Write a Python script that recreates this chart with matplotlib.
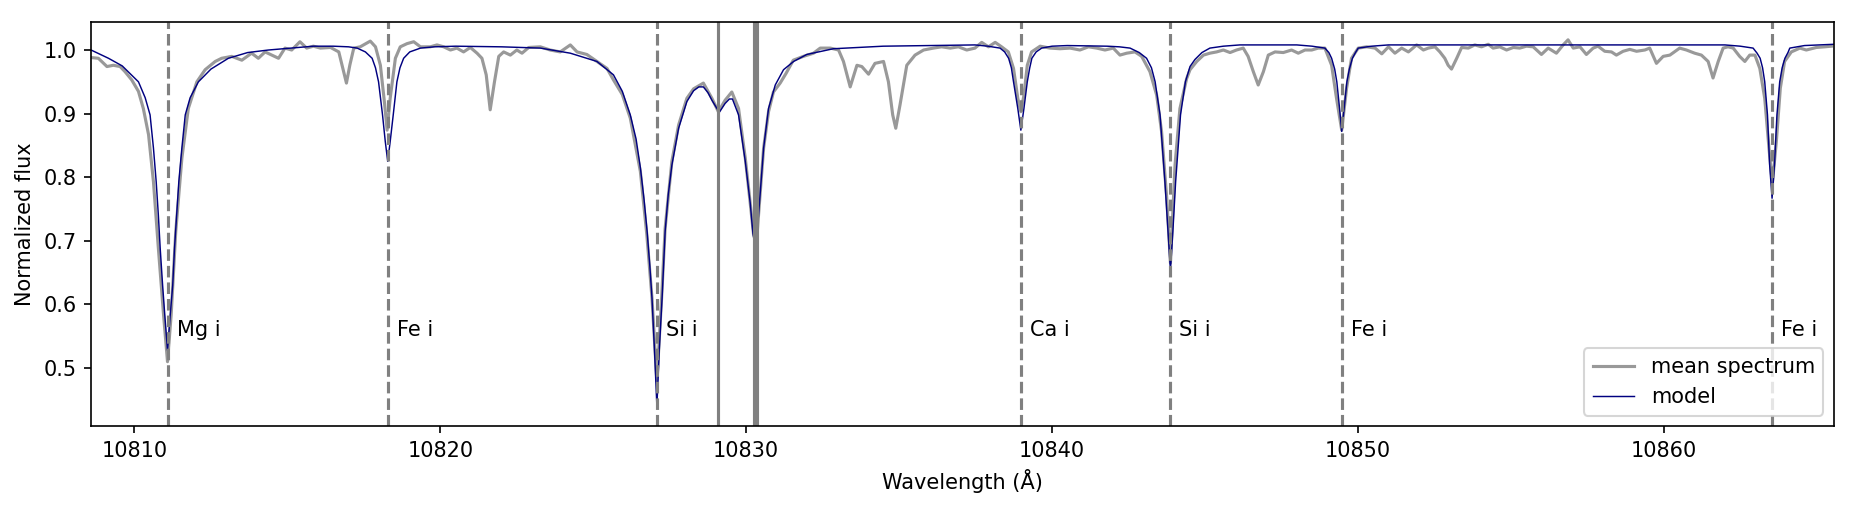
import matplotlib
matplotlib.use("Agg")
import matplotlib.pyplot as plt

# ── mean spectrum ────────────────────────────────────────────
spec_wave = [
    10808.61, 10808.82, 10809.10, 10809.31, 10809.53, 10809.69, 10809.91, 10810.13,
    10810.29, 10810.46, 10810.62, 10810.78, 10810.95, 10811.08, 10811.20, 10811.35,
    10811.55, 10811.76, 10812.04, 10812.31, 10812.64, 10812.85, 10813.18, 10813.51,
    10813.83, 10814.05, 10814.27, 10814.49, 10814.71, 10814.92, 10815.14, 10815.41,
    10815.63, 10815.85, 10816.08, 10816.41, 10816.68, 10816.84, 10816.93, 10817.04,
    10817.17, 10817.38, 10817.71, 10817.88, 10818.04, 10818.17, 10818.26, 10818.36,
    10818.53, 10818.69, 10818.91, 10819.13, 10819.35, 10819.67, 10819.89, 10820.11,
    10820.33, 10820.54, 10820.76, 10820.98, 10821.20, 10821.36, 10821.50, 10821.63,
    10821.77, 10821.91, 10822.07, 10822.29, 10822.50, 10822.67, 10822.89, 10823.27,
    10823.59, 10823.92, 10824.25, 10824.47, 10824.79, 10825.12, 10825.45, 10825.66,
    10825.95, 10826.21, 10826.54, 10826.75, 10826.92, 10827.08, 10827.24, 10827.35,
    10827.57, 10827.79, 10828.06, 10828.28, 10828.60, 10828.88, 10829.09, 10829.31,
    10829.53, 10829.75, 10829.97, 10830.13, 10830.24, 10830.33, 10830.45, 10830.57,
    10830.73, 10830.89, 10831.11, 10831.30, 10831.54, 10831.87, 10832.20, 10832.42,
    10832.75, 10833.02, 10833.18, 10833.40, 10833.62, 10833.78, 10834.00, 10834.21,
    10834.49, 10834.65, 10834.79, 10834.89, 10835.03, 10835.25, 10835.52, 10835.80,
    10836.12, 10836.39, 10836.67, 10836.94, 10837.21, 10837.48, 10837.70, 10837.92,
    10838.14, 10838.35, 10838.57, 10838.74, 10838.88, 10838.98, 10839.08, 10839.19,
    10839.33, 10839.61, 10839.93, 10840.26, 10840.59, 10840.91, 10841.19, 10841.46,
    10841.73, 10842.00, 10842.22, 10842.44, 10842.71, 10842.93, 10843.20, 10843.42,
    10843.58, 10843.75, 10843.87, 10844.02, 10844.18, 10844.40, 10844.51, 10844.73,
    10844.95, 10845.16, 10845.38, 10845.60, 10845.82, 10846.03, 10846.25, 10846.41,
    10846.58, 10846.74, 10846.91, 10847.07, 10847.29, 10847.56, 10847.83, 10848.05,
    10848.27, 10848.49, 10848.70, 10848.92, 10849.14, 10849.30, 10849.47, 10849.63,
    10849.79, 10850.01, 10850.29, 10850.56, 10850.78, 10851.00, 10851.21, 10851.43,
    10851.65, 10851.92, 10852.14, 10852.30, 10852.52, 10852.68, 10852.84, 10852.95,
    10853.06, 10853.23, 10853.39, 10853.61, 10853.82, 10854.04, 10854.26, 10854.42,
    10854.64, 10854.86, 10855.08, 10855.29, 10855.51, 10855.73, 10856.00, 10856.22,
    10856.49, 10856.71, 10856.87, 10857.04, 10857.26, 10857.47, 10857.69, 10857.85,
    10858.07, 10858.29, 10858.45, 10858.67, 10858.89, 10859.11, 10859.38, 10859.54,
    10859.76, 10859.98, 10860.20, 10860.52, 10860.74, 10861.01, 10861.23, 10861.45,
    10861.61, 10861.78, 10861.94, 10862.10, 10862.27, 10862.48, 10862.65, 10862.81,
    10862.98, 10863.14, 10863.30, 10863.44, 10863.55, 10863.68, 10863.81, 10863.95,
    10864.17, 10864.45, 10864.66, 10864.99, 10865.26, 10865.48,
]
spec_flux = [
    0.988, 0.987, 0.974, 0.976, 0.974, 0.966, 0.953, 0.935,
    0.908, 0.867, 0.793, 0.689, 0.584, 0.510, 0.584, 0.715,
    0.830, 0.908, 0.950, 0.969, 0.982, 0.987, 0.990, 0.984,
    0.995, 0.987, 0.997, 0.992, 0.987, 1.003, 1.000, 1.013,
    1.003, 1.006, 1.003, 1.004, 0.997, 0.966, 0.948, 0.976,
    1.003, 1.005, 1.014, 1.005, 0.976, 0.919, 0.874, 0.924,
    0.987, 1.005, 1.010, 1.013, 1.005, 1.005, 1.008, 1.005,
    1.000, 1.003, 0.997, 1.004, 0.995, 0.987, 0.961, 0.906,
    0.950, 0.990, 0.997, 0.992, 1.000, 0.995, 1.004, 1.005,
    1.000, 0.997, 1.008, 0.997, 0.993, 0.982, 0.971, 0.953,
    0.930, 0.893, 0.809, 0.710, 0.610, 0.479, 0.615, 0.720,
    0.825, 0.882, 0.924, 0.939, 0.948, 0.924, 0.903, 0.921,
    0.934, 0.908, 0.830, 0.760, 0.710, 0.694, 0.770, 0.846,
    0.903, 0.934, 0.948, 0.963, 0.984, 0.990, 0.995, 1.003,
    1.003, 1.000, 0.982, 0.942, 0.976, 0.974, 0.962, 0.979,
    0.982, 0.950, 0.898, 0.877, 0.914, 0.976, 0.992, 1.000,
    1.003, 1.005, 1.003, 1.005, 1.000, 1.003, 1.012, 1.005,
    1.012, 1.005, 0.997, 0.971, 0.924, 0.903, 0.929, 0.976,
    0.997, 1.006, 1.003, 1.002, 1.003, 1.000, 1.005, 1.003,
    1.000, 1.003, 0.992, 0.995, 0.997, 0.990, 0.966, 0.929,
    0.872, 0.767, 0.665, 0.819, 0.908, 0.955, 0.969, 0.982,
    0.992, 0.995, 0.997, 1.000, 0.996, 1.000, 1.003, 0.990,
    0.966, 0.945, 0.966, 0.992, 0.997, 0.996, 1.000, 0.995,
    1.000, 1.000, 1.003, 1.003, 0.976, 0.924, 0.874, 0.940,
    0.987, 1.003, 1.005, 1.003, 0.994, 1.005, 0.995, 1.003,
    0.997, 1.008, 1.000, 1.003, 1.005, 0.997, 0.987, 0.976,
    0.970, 0.987, 1.004, 1.003, 1.008, 1.005, 1.009, 1.003,
    1.005, 1.000, 1.004, 1.003, 1.006, 1.005, 0.993, 1.003,
    0.995, 1.008, 1.016, 1.003, 1.005, 0.993, 1.003, 1.006,
    0.998, 0.997, 0.992, 0.998, 1.001, 0.998, 1.000, 1.003,
    0.979, 0.990, 0.992, 1.003, 1.000, 0.995, 0.992, 0.982,
    0.956, 0.982, 1.003, 1.005, 1.003, 0.990, 0.982, 0.992,
    0.992, 0.971, 0.924, 0.845, 0.790, 0.856, 0.940, 0.982,
    0.997, 1.003, 1.000, 1.004, 1.005, 1.006,
]

# ── model ────────────────────────────────────────────────────
model_wave = [
    10808.58, 10809.15, 10809.60, 10810.13, 10810.35, 10810.51, 10810.62, 10810.71,
    10810.78, 10810.84, 10810.92, 10810.99, 10811.08, 10811.17, 10811.25, 10811.31,
    10811.38, 10811.45, 10811.55, 10811.66, 10811.82, 10812.09, 10812.50, 10813.07,
    10813.70, 10814.38, 10815.85, 10816.50, 10817.00, 10817.28, 10817.55, 10817.77,
    10817.88, 10817.98, 10818.11, 10818.20, 10818.28, 10818.36, 10818.46, 10818.58,
    10818.68, 10818.80, 10819.00, 10819.35, 10819.80, 10820.50, 10822.00, 10823.27,
    10824.25, 10825.12, 10825.66, 10825.95, 10826.21, 10826.40, 10826.54, 10826.66,
    10826.76, 10826.85, 10826.92, 10827.00, 10827.08, 10827.16, 10827.25, 10827.35,
    10827.45, 10827.57, 10827.79, 10828.06, 10828.28, 10828.45, 10828.60, 10828.75,
    10828.88, 10829.12, 10829.31, 10829.45, 10829.55, 10829.75, 10829.97, 10830.13,
    10830.22, 10830.29, 10830.36, 10830.45, 10830.57, 10830.73, 10830.95, 10831.22,
    10831.55, 10831.98, 10832.85, 10834.48, 10837.48, 10837.90, 10838.30, 10838.45,
    10838.58, 10838.67, 10838.74, 10838.88, 10838.98, 10839.08, 10839.19, 10839.27,
    10839.34, 10839.48, 10839.66, 10840.00, 10840.50, 10841.80, 10842.20, 10842.55,
    10842.85, 10843.09, 10843.25, 10843.37, 10843.53, 10843.69, 10843.79, 10843.87,
    10843.95, 10844.04, 10844.20, 10844.36, 10844.51, 10844.67, 10844.90, 10845.16,
    10845.60, 10846.14, 10848.00, 10848.50, 10848.92, 10849.05, 10849.14, 10849.24,
    10849.31, 10849.40, 10849.47, 10849.55, 10849.64, 10849.72, 10849.82, 10849.92,
    10850.01, 10850.45, 10851.00, 10862.00, 10862.50, 10862.92, 10863.05, 10863.15,
    10863.23, 10863.30, 10863.39, 10863.46, 10863.54, 10863.62, 10863.70, 10863.79,
    10863.87, 10863.96, 10864.06, 10864.12, 10864.60, 10865.56,
]
model_flux = [
    1.000, 0.987, 0.975, 0.950, 0.925, 0.898, 0.846, 0.793,
    0.741, 0.689, 0.630, 0.584, 0.528, 0.584, 0.630, 0.689,
    0.741, 0.793, 0.846, 0.898, 0.925, 0.950, 0.970, 0.987,
    0.996, 1.000, 1.006, 1.006, 1.005, 1.003, 0.997, 0.987,
    0.972, 0.950, 0.898, 0.856, 0.825, 0.856, 0.898, 0.950,
    0.972, 0.987, 0.997, 1.003, 1.005, 1.006, 1.005, 1.003,
    0.995, 0.982, 0.961, 0.935, 0.898, 0.860, 0.815, 0.765,
    0.715, 0.660, 0.610, 0.530, 0.440, 0.530, 0.610, 0.715,
    0.772, 0.819, 0.877, 0.919, 0.936, 0.942, 0.942, 0.933,
    0.921, 0.902, 0.916, 0.923, 0.923, 0.898, 0.825, 0.760,
    0.712, 0.694, 0.715, 0.770, 0.846, 0.908, 0.945, 0.969,
    0.982, 0.993, 1.002, 1.006, 1.008, 1.006, 1.003, 0.997,
    0.987, 0.972, 0.950, 0.908, 0.874, 0.908, 0.950, 0.972,
    0.987, 0.997, 1.003, 1.006, 1.007, 1.006, 1.005, 1.003,
    0.996, 0.987, 0.972, 0.950, 0.898, 0.793, 0.715, 0.654,
    0.715, 0.793, 0.898, 0.950, 0.974, 0.985, 0.996, 1.003,
    1.006, 1.008, 1.008, 1.006, 1.003, 0.996, 0.987, 0.970,
    0.950, 0.908, 0.872, 0.908, 0.950, 0.970, 0.987, 0.996,
    1.003, 1.006, 1.008, 1.008, 1.006, 1.003, 0.995, 0.987,
    0.972, 0.950, 0.898, 0.820, 0.767, 0.820, 0.898, 0.950,
    0.972, 0.987, 0.996, 1.003, 1.007, 1.009,
]

# raies identifiées (tirets) et triplet He I (traits pleins)
line_wave = [10811.08, 10818.28, 10827.09, 10838.97, 10843.86, 10849.47, 10863.53]
line_name = ["Mg i", "Fe i", "Si i", "Ca i", "Si i", "Fe i", "Fe i"]
he_wave = [10829.09, 10830.25, 10830.34]

fig, ax = plt.subplots(figsize=(1858 / 150, 512 / 150), dpi=150)
fig.subplots_adjust(left=0.049, right=0.987, bottom=0.168, top=0.957)

ax.plot(spec_wave, spec_flux, color="gray", alpha=0.8, lw=1.5, label="mean spectrum")
ax.plot(model_wave, model_flux, color="navy", lw=0.7, label="model")

for w, name in zip(line_wave, line_name):
    ax.axvline(w, color="gray", ls="--", lw=1.5)
    ax.text(w + 0.3, 0.55, name, va="baseline", ha="left")
for w in he_wave:
    ax.axvline(w, color="gray", ls="-", lw=1.5)

ax.set_xlim(10808.58, 10865.56)
ax.set_ylim(0.409, 1.044)
ax.set_xlabel("Wavelength (Å)")
ax.set_ylabel("Normalized flux")
ax.legend(loc="lower right")

fig.savefig("out.png", dpi=150)
